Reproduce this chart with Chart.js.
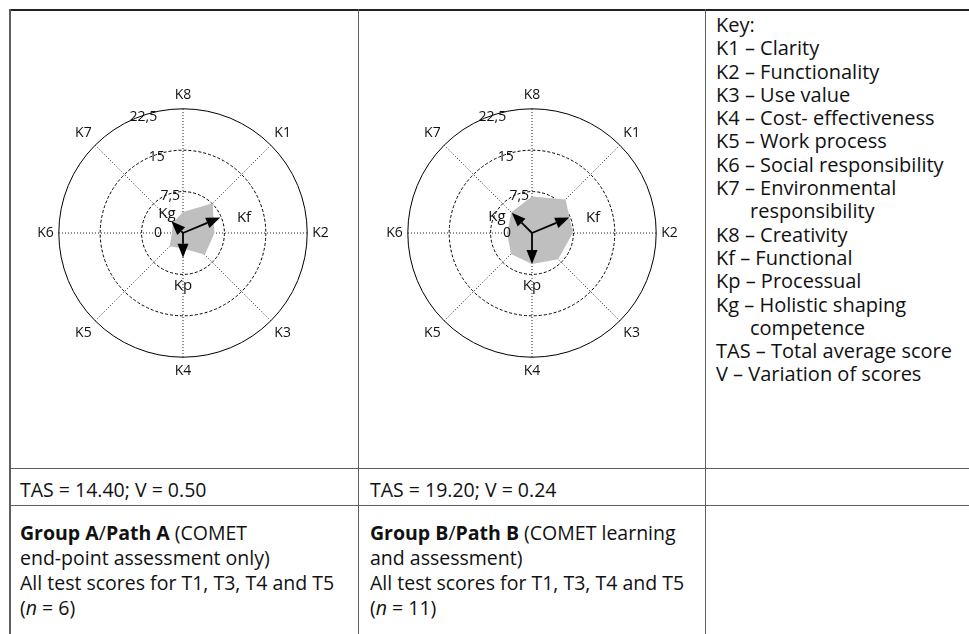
<!DOCTYPE html>
<html>
<head>
<meta charset="utf-8">
<script src="https://cdn.jsdelivr.net/npm/chart.js@4.4.0/dist/chart.umd.min.js"></script>
<style>
  html, body { margin: 0; padding: 0; background: #fff; }
  body { width: 969px; height: 634px; position: relative; overflow: hidden;
         font-family: 'Open Sans', sans-serif; color: #111; }
  .line { position: absolute; background: #5e5e5e; }
  .cell { position: absolute; font-size: 19.5px; white-space: nowrap; }
  .key { font-size: 20px; }
  .key div { height: 23.3px; line-height: 23.3px; }
  .key .indent { padding-left: 34px; }
  .group div { height: 25px; line-height: 25px; }
  canvas { position: absolute; }
</style>
</head>
<body>
  <!-- table rules -->
  <div class="line" style="left:9px;top:9px;width:960px;height:1.5px;background:#222"></div>
  <div class="line" style="left:9px;top:9px;width:1.5px;height:625px"></div>
  <div class="line" style="left:358px;top:9px;width:1px;height:625px"></div>
  <div class="line" style="left:705px;top:9px;width:1px;height:625px"></div>
  <div class="line" style="left:9px;top:468px;width:960px;height:1px"></div>
  <div class="line" style="left:9px;top:505px;width:960px;height:1px"></div>

  <canvas id="chartA" width="292" height="292" style="left:37px;top:88px"></canvas>
  <canvas id="chartB" width="292" height="292" style="left:386px;top:88px"></canvas>

  <div class="cell key" id="key" style="left:716px;top:13px"></div>
  <div class="cell" id="sumA" style="left:20px;top:476px"></div>
  <div class="cell" id="sumB" style="left:370px;top:476px"></div>
  <div class="cell group" id="groupA" style="left:20px;top:520px"></div>
  <div class="cell group" id="groupB" style="left:370px;top:520px"></div>

<script>
// axes clockwise from the top
const axisLabels = ['K8', 'K1', 'K2', 'K3', 'K4', 'K5', 'K6', 'K7'];
const ringTicks = [7.5, 15, 22.5];
const ringTickLabels = ['7,5', '15', '22,5'];

// K8, K1 ... K7 scores
const groupAScores = [3.8, 7.6, 5.7, 5.6, 2.8, 3.4, 2.0, 2.6];
const groupBScores = [6.6, 8.6, 7.4, 6.7, 5.6, 5.4, 4.5, 5.3];

// competence vectors: Kf between K1/K2, Kp on K4, Kg on K7
const vectorNames = ['Kf', 'Kp', 'Kg'];
const vectorAxis = [1.5, 4, 7];
const groupAVectors = [7.3, 4.5, 3.0];
const groupBVectors = [7.3, 5.6, 5.2];

const keyLines = [
  'Key:', 'K1 – Clarity', 'K2 – Functionality', 'K3 – Use value',
  'K4 – Cost- effectiveness', 'K5 – Work process', 'K6 – Social responsibility',
  'K7 – Environmental', '>responsibility', 'K8 – Creativity', 'Kf – Functional',
  'Kp – Processual', 'Kg – Holistic shaping', '>competence',
  'TAS – Total average score', 'V – Variation of scores'
];
const summaryA = 'TAS = 14.40; V = 0.50';
const summaryB = 'TAS = 19.20; V = 0.24';
const groupAText = ['<b>Group A</b>/<b>Path A</b> (COMET', 'end-point assessment only)',
  'All test scores for T1, T3, T4 and T5', '(<i>n</i> = 6)'];
const groupBText = ['<b>Group B</b>/<b>Path B</b> (COMET learning', 'and assessment)',
  'All test scores for T1, T3, T4 and T5', '(<i>n</i> = 11)'];

document.getElementById('key').innerHTML = keyLines.map(t =>
  t[0] === '>' ? `<div class="indent">${t.slice(1)}</div>` : `<div>${t}</div>`).join('');
document.getElementById('sumA').textContent = summaryA;
document.getElementById('sumB').textContent = summaryB;
document.getElementById('groupA').innerHTML = groupAText.map(t => `<div>${t}</div>`).join('');
document.getElementById('groupB').innerHTML = groupBText.map(t => `<div>${t}</div>`).join('');

function drawArrow(ctx, x0, y0, x1, y1) {
  const ang = Math.atan2(y1 - y0, x1 - x0);
  const len = 14, half = 5.5;
  const bx = x1 - len * Math.cos(ang), by = y1 - len * Math.sin(ang);
  ctx.beginPath();
  ctx.moveTo(x0, y0);
  ctx.lineTo(bx, by);
  ctx.lineWidth = 1.8;
  ctx.strokeStyle = '#000';
  ctx.stroke();
  ctx.beginPath();
  ctx.moveTo(x1, y1);
  ctx.lineTo(bx + half * Math.sin(ang), by - half * Math.cos(ang));
  ctx.lineTo(bx - half * Math.sin(ang), by + half * Math.cos(ang));
  ctx.closePath();
  ctx.fillStyle = '#000';
  ctx.fill();
}

// ring values, the 0 mark, the arrows and their names
const overlay = {
  id: 'overlay',
  afterDraw(chart, args, opts) {
    const r = chart.scales.r;
    const ctx = chart.ctx;
    ctx.save();
    ctx.font = '14px "Open Sans"';
    ctx.fillStyle = '#111';
    ctx.textAlign = 'center';
    ctx.textBaseline = 'middle';
    const a = -Math.PI / 2 - 0.33;
    ringTicks.forEach((v, i) => {
      const d = r.getDistanceFromCenterForValue(v) - 2;
      ctx.fillText(ringTickLabels[i], r.xCenter + d * Math.cos(a), r.yCenter + d * Math.sin(a));
    });
    ctx.fillText('0', r.xCenter - 25, r.yCenter);

    opts.vectors.forEach((v, i) => {
      const p = r.getPointPositionForValue(vectorAxis[i], v);
      drawArrow(ctx, r.xCenter, r.yCenter, p.x, p.y);
    });
    ctx.fillStyle = '#111';
    ctx.font = '15px "Open Sans"';
    vectorNames.forEach((n, i) => {
      const off = opts.nameOffsets[i];
      ctx.fillText(n, r.xCenter + off[0], r.yCenter + off[1]);
    });
    ctx.restore();
  }
};

function makeRadar(id, scores, vectors, nameOffsets) {
  return new Chart(document.getElementById(id), {
    type: 'radar',
    data: {
      labels: axisLabels,
      datasets: [{
        data: scores,
        backgroundColor: '#bfbfbf',
        borderWidth: 0,
        pointRadius: 0,
        fill: true
      }]
    },
    options: {
      responsive: false,
      animation: false,
      layout: { padding: 0 },
      plugins: {
        legend: { display: false },
        tooltip: { enabled: false },
        overlay: { vectors: vectors, nameOffsets: nameOffsets }
      },
      scales: {
        r: {
          min: 0,
          max: 22.5,
          z: 1,
          ticks: { stepSize: 7.5, display: false },
          grid: { circular: true, color: '#000', lineWidth: 1 },
          border: { dash: (c) => c.index === 3 ? [] : [3, 2] },
          angleLines: { color: '#222', lineWidth: 1, borderDash: [1, 2] },
          pointLabels: {
            font: { family: 'Open Sans', size: 14 },
            color: '#111',
            padding: 5
          }
        }
      }
    },
    plugins: [overlay]
  });
}

makeRadar('chartA', groupAScores, groupAVectors, [[61, -15], [0, 53], [-16, -19]]);
makeRadar('chartB', groupBScores, groupBVectors, [[61, -15], [0, 53], [-35, -16]]);
</script>
</body>
</html>
